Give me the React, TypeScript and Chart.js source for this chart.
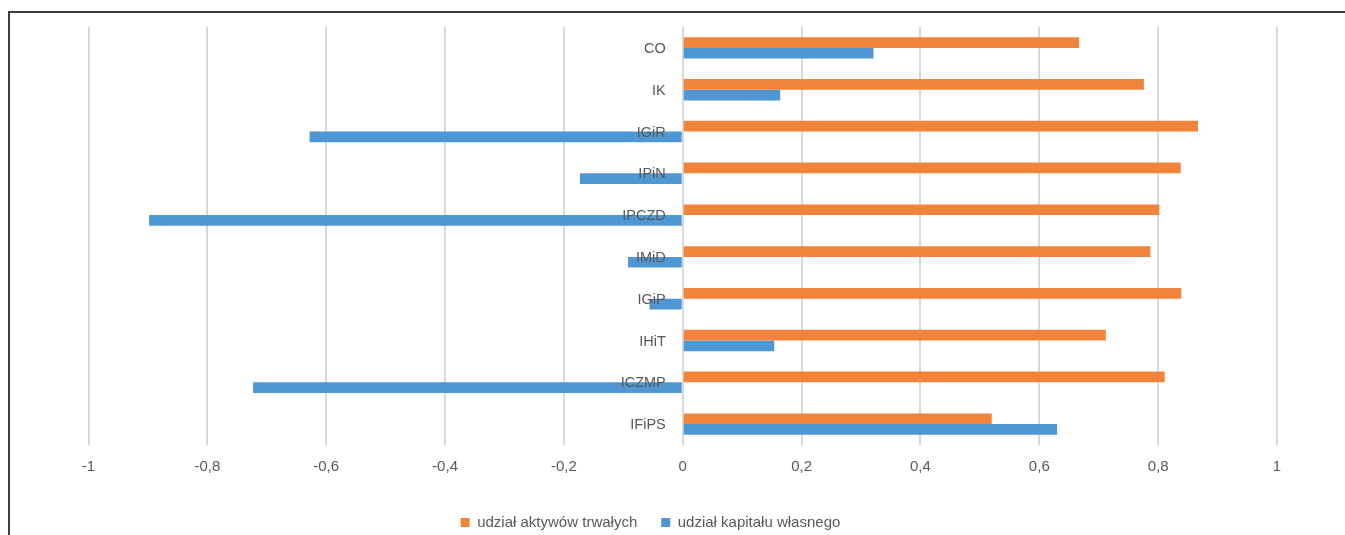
import { useEffect, useRef } from 'react';
import { Chart, registerables } from 'chart.js';

Chart.register(...registerables);

// Institutes (top to bottom)
const categories = ['CO', 'IK', 'IGiR', 'IPiN', 'IPCZD', 'IMiD', 'IGiP', 'IHiT', 'ICZMP', 'IFiPS'];

// Share of fixed assets
const fixedAssetsShare = [0.667, 0.776, 0.867, 0.838, 0.802, 0.787, 0.839, 0.712, 0.811, 0.52];

// Share of equity
const equityShare = [0.321, 0.164, -0.628, -0.173, -0.898, -0.092, -0.056, 0.154, -0.723, 0.63];

const xTickLabels = ['-1', '-0,8', '-0,6', '-0,4', '-0,2', '0', '0,2', '0,4', '0,6', '0,8', '1'];

const seriesNames = ['udział aktywów trwałych', 'udział kapitału własnego'];
const seriesColors = ['#F2833B', '#4E97D3'];

const FONT = '"Liberation Sans", Arial, sans-serif';
const TEXT = '#595959';

// Category names drawn right-aligned against the zero line, above the bars
const categoryLabelPlugin = {
  id: 'categoryLabels',
  afterDatasetsDraw(chart: any) {
    const { ctx, scales } = chart;
    const x = scales.x;
    const y = scales.y;
    const x0 = x.getPixelForValue(0);
    ctx.save();
    ctx.font = `14.5px ${FONT}`;
    ctx.fillStyle = TEXT;
    ctx.textAlign = 'right';
    ctx.textBaseline = 'middle';
    categories.forEach((name, i) => {
      ctx.fillText(name, x0 - 17, y.getPixelForValue(i) + 1);
    });
    ctx.restore();
  },
};

export default function App() {
  const canvasRef = useRef<HTMLCanvasElement>(null);

  useEffect(() => {
    const canvas = canvasRef.current;
    if (!canvas) return;
    const chart = new Chart(canvas, {
      type: 'bar',
      data: {
        labels: categories,
        datasets: [
          {
            label: seriesNames[0],
            data: fixedAssetsShare,
            backgroundColor: seriesColors[0],
            yAxisID: 'y',
            categoryPercentage: 0.513,
            barPercentage: 1,
          },
          {
            label: seriesNames[1],
            data: equityShare,
            backgroundColor: seriesColors[1],
            yAxisID: 'y',
            categoryPercentage: 0.513,
            barPercentage: 1,
          },
        ],
      },
      options: {
        indexAxis: 'y',
        responsive: false,
        maintainAspectRatio: false,
        animation: false,
        layout: { padding: { left: 24, right: 68, top: 27, bottom: 0 } },
        scales: {
          x: {
            type: 'linear',
            min: -1,
            max: 1,
            ticks: {
              stepSize: 0.2,
              autoSkip: false,
              maxRotation: 0,
              padding: 13,
              color: TEXT,
              font: { family: FONT, size: 15 },
              callback: (_v: any, i: number) => xTickLabels[i] ?? '',
            },
            grid: { color: '#d9d9d9', lineWidth: 2, drawTicks: false },
            border: { display: false },
            afterFit: (s: any) => {
              s.height = 46;
            },
          },
          y: {
            type: 'category',
            ticks: { display: false },
            grid: { display: false, drawTicks: false },
            border: { display: false },
            afterFit: (s: any) => {
              s.width = 64.5;
            },
          },
        },
        plugins: {
          legend: {
            position: 'bottom',
            labels: {
              boxWidth: 9,
              boxHeight: 9,
              padding: 24,
              color: TEXT,
              font: { family: FONT, size: 15 },
            },
          },
          tooltip: { enabled: false },
        },
      },
      plugins: [categoryLabelPlugin],
    });
    return () => chart.destroy();
  }, []);

  return (
    <div
      style={{
        position: 'absolute',
        left: 0,
        top: 0,
        width: 1345,
        height: 535,
        overflow: 'hidden',
        background: '#fff',
      }}
    >
      <canvas
        ref={canvasRef}
        width={1345}
        height={540}
        style={{ display: 'block', width: 1345, height: 540 }}
      />
      <div
        style={{
          position: 'absolute',
          left: 8,
          top: 11,
          right: 0,
          bottom: -10,
          borderTop: '2px solid #3d3d3d',
          borderLeft: '2px solid #3d3d3d',
          pointerEvents: 'none',
        }}
      />
    </div>
  );
}
